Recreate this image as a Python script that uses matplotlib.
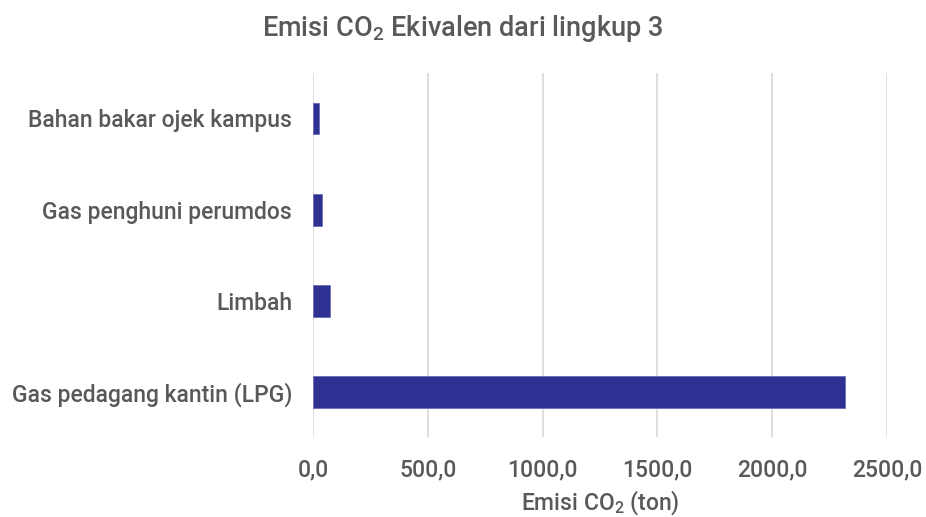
import matplotlib
matplotlib.use('Agg')
import matplotlib.pyplot as plt

plt.rcParams['font.family'] = ['Roboto', 'DejaVu Sans']
plt.rcParams['font.weight'] = 'medium'
plt.rcParams['mathtext.default'] = 'regular'

categories = ['Gas pedagang kantin (LPG)', 'Limbah', 'Gas penghuni perumdos',
              'Bahan bakar ojek kampus']
emisi = [2316.0, 72.0, 41.0, 26.0]
ticks = [0, 500, 1000, 1500, 2000, 2500]
tick_labels = ['0,0', '500,0', '1000,0', '1500,0', '2000,0', '2500,0']

TEXT = '#595959'
BAR = '#2E3192'

fig = plt.figure(figsize=(9.26, 5.17), dpi=100)
ax = fig.add_axes([0.338, 0.154, 0.620, 0.705])

ax.barh(categories, emisi, height=0.35, color=BAR, edgecolor='#6A6DB5', linewidth=0.6, zorder=3)
ax.set_xlim(0, 2500)
ax.set_ylim(-0.5, 3.5)
ax.set_xticks(ticks)
ax.set_xticklabels(tick_labels)
ax.grid(axis='x', color='#D9D9D9', linewidth=1.2, zorder=0)
for s in ax.spines.values():
    s.set_visible(False)
ax.tick_params(axis='both', length=0, labelsize=16.5, labelcolor=TEXT)
ax.tick_params(axis='x', pad=15)
ax.tick_params(axis='y', pad=15)

ax.set_xlabel('Emisi CO$_2$ (ton)', fontsize=16.5, color=TEXT, labelpad=5, fontweight='medium')
fig.suptitle('Emisi CO$_2$ Ekivalen dari lingkup 3', fontsize=19.5, color=TEXT, y=0.975,
             fontweight='medium')

fig.savefig('out.png', dpi=100)
